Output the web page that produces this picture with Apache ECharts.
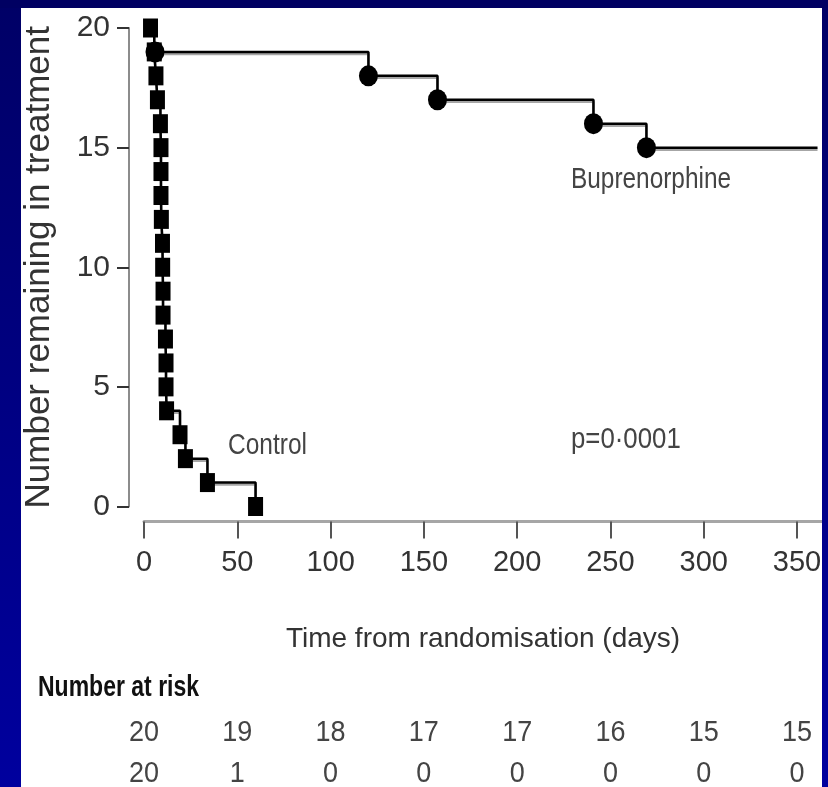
<!DOCTYPE html>
<html><head><meta charset="utf-8">
<script src="https://cdn.jsdelivr.net/npm/echarts@6/dist/echarts.min.js"></script>
<style>html,body{margin:0;padding:0;background:#fff}#c{width:828px;height:787px}</style>
</head><body><div id="c"></div>
<script>
// ---- data ----
const controlDays = [3.5, 5.5, 6.4, 7.2, 8.8, 9.1, 9.1, 9.1, 9.3, 9.9, 10.0, 10.2, 10.2, 11.5, 11.8, 11.8, 12.1, 19.3, 22.2, 34.0, 59.8];
const controlN    = [20, 19, 18, 17, 16, 15, 14, 13, 12, 11, 10, 9, 8, 7, 6, 5, 4, 3, 2, 1, 0];
const bupDays     = [5.9, 120.3, 157.3, 240.9, 269.3, 361];
const bupN        = [19, 18, 17, 16, 15, 15];
const bupCensoredEnd = [false, false, false, false, false, true];
const xTicks = [0, 50, 100, 150, 200, 250, 300, 350];
const yTicks = [0, 5, 10, 15, 20];
const riskBup     = [20, 19, 18, 17, 17, 16, 15, 15];
const riskControl = [20, 1, 0, 0, 0, 0, 0, 0];

const FONT = "'Liberation Sans', Arial, Helvetica, sans-serif";

const chart = echarts.init(document.getElementById('c'), null, {renderer: 'canvas'});

const lineShadow = {shadowColor: 'rgba(0,0,0,0.35)', shadowOffsetY: 2, shadowBlur: 0};

chart.setOption({
  animation: false,
  backgroundColor: '#ffffff',
  grid: {left: 144, right: 6, top: 28, bottom: 280.5, containLabel: false},
  xAxis: {
    type: 'value', min: 0, max: 363.4, interval: 50, offset: 15,
    splitLine: {show: false},
    axisLine: {show: true, onZero: false, lineStyle: {color: '#a6a6a6', width: 3}},
    axisTick: {show: true, length: 17, customValues: xTicks, lineStyle: {color: '#555', width: 2}},
    axisLabel: {customValues: xTicks, fontSize: 29, fontFamily: FONT, color: '#333', margin: 27},
    name: 'Time from randomisation (days)', nameLocation: 'middle', nameGap: 104,
    nameTextStyle: {fontSize: 28, fontFamily: FONT, color: '#333'}
  },
  yAxis: {
    type: 'value', min: 0, max: 20, interval: 5, offset: 15,
    splitLine: {show: false},
    axisLine: {show: true, onZero: false, lineStyle: {color: '#8c8c8c', width: 2}},
    axisTick: {show: true, length: 12, customValues: yTicks, lineStyle: {color: '#333', width: 2}},
    axisLabel: {customValues: yTicks, fontSize: 30, fontFamily: FONT, color: '#333', margin: 19},
    name: 'Number remaining in treatment', nameLocation: 'middle', nameGap: 72,
    nameTextStyle: {fontSize: 35, fontFamily: FONT, color: '#333'}
  },
  series: [
    {
      name: 'Control', type: 'line', step: 'end',
      data: controlDays.map((d, i) => [d, controlN[i]]),
      symbol: 'rect', symbolSize: [15, 19], showSymbol: true,
      itemStyle: {color: '#000'},
      lineStyle: Object.assign({color: '#000', width: 2.5}, lineShadow),
      z: 3
    },
    {
      name: 'Buprenorphine', type: 'line', step: 'end',
      data: bupDays.map((d, i) => bupCensoredEnd[i]
        ? {value: [d, bupN[i]], symbol: 'none'}
        : {value: [d, bupN[i]]}),
      symbol: 'circle', symbolSize: [19, 21], showSymbol: true,
      itemStyle: {color: '#000'},
      lineStyle: Object.assign({color: '#000', width: 2.5}, lineShadow),
      z: 4
    }
  ]
});

// ---- annotations, risk table and slide frame ----
const g = [];
const txt = (text, x, y, font, fill, align, sy) => ({
  type: 'text', x: x, y: y, z: 50, scaleY: sy || 1,
  style: {text: text, font: font, fill: fill, align: align || 'left', textAlign: align || 'left',
          verticalAlign: 'middle', textVerticalAlign: 'middle'}
});
g.push(txt('Control', 228, 446, '24.5px ' + FONT, '#444', 'left', 1.2));
g.push(txt('Buprenorphine', 571, 180, '24.4px ' + FONT, '#444', 'left', 1.2));
g.push(txt('p=0\u00b70001', 571, 440, '25.8px ' + FONT, '#444', 'left', 1.15));
g.push(txt('Number at risk', 38, 688, 'bold 23px ' + FONT, '#111', 'left', 1.25));
xTicks.forEach((t, i) => {
  const px = chart.convertToPixel({xAxisIndex: 0}, t);
  g.push(txt(String(riskBup[i]), px, 733, '27px ' + FONT, '#444', 'center', 1.1));
  g.push(txt(String(riskControl[i]), px, 774, '27px ' + FONT, '#444', 'center', 1.1));
});
const sideGrad = {type: 'linear', x: 0, y: 0, x2: 0, y2: 1,
  colorStops: [{offset: 0, color: '#000066'}, {offset: 1, color: '#00009e'}]};
g.push({type: 'rect', z: 100, shape: {x: 0, y: 0, width: 21, height: 787}, style: {fill: sideGrad}});
g.push({type: 'rect', z: 100, shape: {x: 822, y: 0, width: 6, height: 787}, style: {fill: sideGrad}});
g.push({type: 'rect', z: 101, shape: {x: 0, y: 0, width: 828, height: 8}, style: {fill: '#000062'}});
chart.setOption({graphic: {elements: g}});
</script>
</body></html>
